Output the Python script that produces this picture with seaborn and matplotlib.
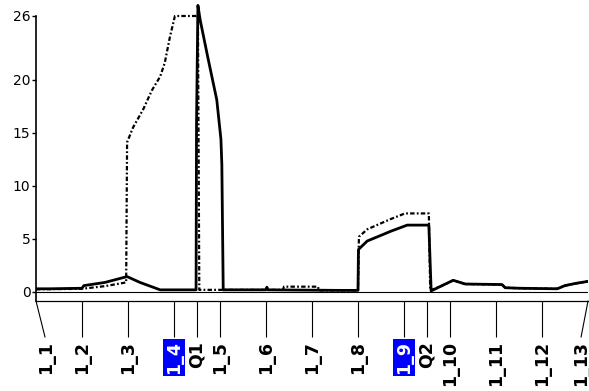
import matplotlib
matplotlib.use('Agg')
import matplotlib.pyplot as plt
from matplotlib.transforms import ScaledTranslation
import seaborn as sns

# station positions (in station units) and labels
tick_pos = [0, 1, 2, 3, 3.5, 4, 5, 6, 7, 8, 8.5, 9, 10, 11, 12]
tick_labels = ['1_1', '1_2', '1_3', '1_4', 'Q1', '1_5', '1_6', '1_7', '1_8',
               '1_9', 'Q2', '1_10', '1_11', '1_12', '1_13']
highlighted = ['1_4', '1_9']
y_ticks = [0, 5, 10, 15, 20, 26]

# solid series
solid_x = [0.00, 0.30, 1.00, 1.04, 1.50, 1.98, 2.26, 2.70, 3.48, 3.49, 3.52,
           3.57, 3.74, 3.93, 4.02, 4.04, 4.07, 5.00, 5.02, 5.04, 6.61, 7.00,
           7.01, 7.20, 7.48, 7.70, 8.07, 8.54, 8.59, 8.78, 9.07, 9.33, 10.13,
           10.20, 10.52, 11.33, 11.50, 11.72, 12.00]
solid_y = [0.30, 0.30, 0.35, 0.60, 0.90, 1.45, 0.90, 0.20, 0.20, 16.0, 27.0,
           25.6, 22.0, 18.1, 14.4, 12.0, 0.20, 0.20, 0.45, 0.20, 0.15, 0.15,
           4.0, 4.8, 5.3, 5.7, 6.3, 6.3, 0.10, 0.50, 1.10, 0.75, 0.70,
           0.40, 0.35, 0.30, 0.60, 0.80, 1.00]

# dotted series
dotted_x = [0.00, 1.00, 1.50, 1.96, 1.98, 2.11, 2.33, 2.52, 2.70, 2.80, 2.91,
            3.02, 3.52, 3.55, 4.04, 5.37, 5.39, 6.13, 6.15, 7.00, 7.02, 7.20,
            7.70, 8.02, 8.54, 8.57, 8.78, 9.07, 9.33, 10.13, 10.20, 10.52,
            11.33, 11.50, 11.72, 12.00]
dotted_y = [0.25, 0.30, 0.55, 0.90, 14.1, 15.5, 17.2, 19.0, 20.3, 21.6, 24.0,
            26.0, 26.0, 0.20, 0.20, 0.20, 0.50, 0.50, 0.15, 0.15, 5.2, 5.9,
            6.85, 7.4, 7.4, 0.15, 0.50, 1.10, 0.75, 0.70, 0.40, 0.35,
            0.30, 0.60, 0.80, 1.00]

sns.set_style('white')
plt.rcParams['font.family'] = ['DejaVu Sans']

fig = plt.figure(figsize=(5.89, 3.91), dpi=100)
ax = fig.add_axes([36 / 589, 90 / 391, 552 / 589, 297 / 391])

sns.lineplot(x=solid_x, y=solid_y, ax=ax, color='black', linewidth=2.0,
             estimator=None, sort=False)
sns.lineplot(x=dotted_x, y=dotted_y, ax=ax, color='black', linewidth=1.6,
             estimator=None, sort=False, dashes=False,
             linestyle=(0, (2.0, 1.0, 0.8, 1.0)))
ax.axhline(0, color='black', linewidth=0.8, zorder=1)

ax.set_xlim(0, 12)
ax.set_ylim(-0.85, 27.13)

for s in ['top', 'right']:
    ax.spines[s].set_visible(False)
ax.spines['left'].set_bounds(-0.85, 26)
ax.spines['left'].set_linewidth(1.2)
ax.spines['bottom'].set_linewidth(0.9)
for s in ['left', 'bottom']:
    ax.spines[s].set_color('black')

ax.set_yticks(y_ticks)
ax.set_yticklabels([str(v) for v in y_ticks])
ax.tick_params(axis='y', left=True, length=3, width=1, pad=1,
               labelsize=10, colors='black')

ax.set_xticks(tick_pos)
ax.set_xticklabels(tick_labels, rotation=90, fontsize=12.5,
                   fontweight='bold')
ax.tick_params(axis='x', bottom=True, length=26, width=0.8, pad=3,
               colors='black')

ticks = ax.xaxis.get_major_ticks()
ticks[0].tick1line.set_visible(False)
ticks[-1].tick1line.set_visible(False)

# slanted leaders for the first and last stations
trans = ax.get_xaxis_transform()
for xpos, dx in [(tick_pos[0], 6.5), (tick_pos[-1], -5.0)]:
    ax.annotate('', xy=(xpos, 0), xycoords=trans,
                xytext=(dx, -26), textcoords='offset points',
                arrowprops=dict(arrowstyle='-', lw=0.8, color='black',
                                shrinkA=0, shrinkB=0),
                annotation_clip=False)

labels = ax.get_xticklabels()
labels[0].set_transform(labels[0].get_transform()
                        + ScaledTranslation(0.10, 0, fig.dpi_scale_trans))
labels[-1].set_transform(labels[-1].get_transform()
                         + ScaledTranslation(-0.07, 0, fig.dpi_scale_trans))
for lab in labels:
    if lab.get_text() in highlighted:
        lab.set_color('white')
        lab.set_bbox(dict(facecolor='#0000ff', edgecolor='none', pad=1.5))

fig.savefig('out.png', dpi=100, facecolor='white')
